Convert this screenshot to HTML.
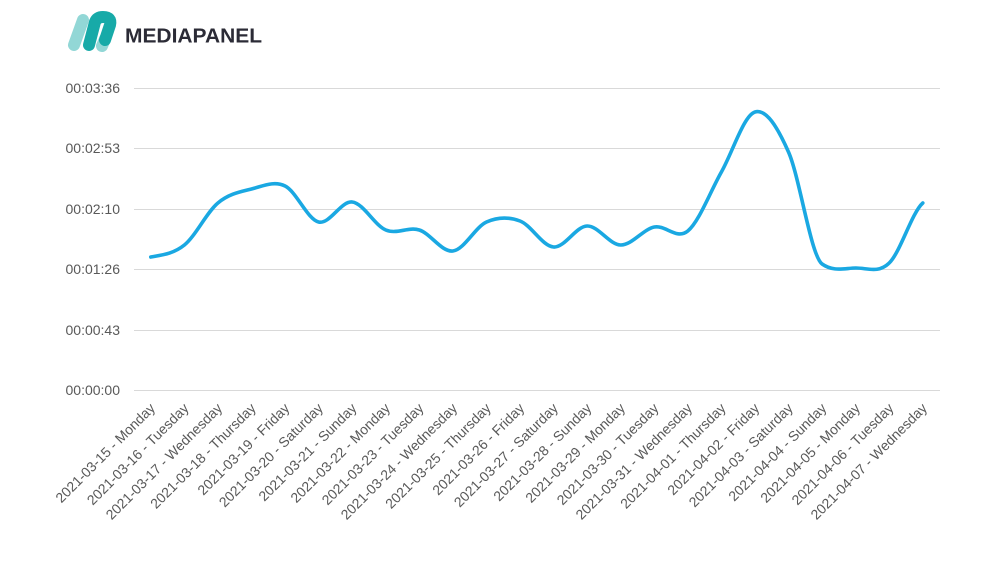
<!DOCTYPE html>
<html><head><meta charset="utf-8"><style>
html,body{margin:0;padding:0;background:#fff;}
svg{display:block;}
</style></head><body>
<svg width="1000" height="573" viewBox="0 0 1000 573" xmlns="http://www.w3.org/2000/svg">
<rect width="1000" height="573" fill="#fff"/>
<!-- logo -->
<g stroke-linecap="round" fill="none" stroke-width="12">
<line x1="74" y1="45" x2="83" y2="20" stroke="#92d7d6"/>
<line x1="105" y1="39" x2="102" y2="46" stroke="#92d7d6"/>
<path d="M89 45 L95 22 Q97 17 103 17 Q112 17 110 25 L105 40" stroke="#17aaa8"/>
</g>
<text x="125" y="42.5" font-family="Liberation Sans, sans-serif" font-weight="bold" font-size="20.5" fill="#2b2b36" textLength="137" lengthAdjust="spacingAndGlyphs">MEDIAPANEL</text>
<!-- grid -->
<g stroke="#d9d9d9" stroke-width="1">
<line x1="134" y1="88.5" x2="940" y2="88.5"/>
<line x1="134" y1="148.5" x2="940" y2="148.5"/>
<line x1="134" y1="209.5" x2="940" y2="209.5"/>
<line x1="134" y1="269.5" x2="940" y2="269.5"/>
<line x1="134" y1="330.5" x2="940" y2="330.5"/>
<line x1="134" y1="390.5" x2="940" y2="390.5"/>
</g>
<g font-family="Liberation Sans, sans-serif" font-size="14" fill="#595959" text-anchor="end">
<text x="120" y="93">00:03:36</text>
<text x="120" y="153">00:02:53</text>
<text x="120" y="214">00:02:10</text>
<text x="120" y="274">00:01:26</text>
<text x="120" y="335">00:00:43</text>
<text x="120" y="395">00:00:00</text>
</g>
<!-- series -->
<path fill="none" stroke="#1aa8e2" stroke-width="3.6" stroke-linecap="round" stroke-linejoin="round"
d="M150.8 257 C162.0 255,173.2 254,184.4 245 C195.6 236,206.7 212.3,217.9 203 C229.1 193.7,240.3 191.8,251.5 189 C262.7 186.2,273.9 180.5,285.1 186 C296.3 191.5,307.4 219.3,318.6 222 C329.8 224.7,341.0 200.7,352.2 202 C363.4 203.3,374.6 225.3,385.8 230 C397.0 234.7,408.1 226.5,419.3 230 C430.5 233.5,441.7 252.3,452.9 251 C464.1 249.7,475.3 227,486.5 222 C497.7 217,508.8 216.8,520.0 221 C531.2 225.2,542.4 246.2,553.6 247 C564.8 247.8,575.9 226.3,587.1 226 C598.3 225.7,609.5 244.8,620.7 245 C631.9 245.2,643.1 229.3,654.3 227 C665.5 224.7,676.6 240.2,687.8 231 C699.0 221.8,710.2 191.8,721.4 172 C732.6 152.2,743.8 115.3,755.0 112 C766.2 108.7,777.3 126.7,788.5 152 C799.7 177.3,810.9 256,822.1 264 C833.3 272,844.5 268.2,855.7 268 C866.9 267.8,878.0 273.8,889.2 263 C900.4 252.2,911.6 213,922.8 203"/>
<!-- x labels -->
<g font-family="Liberation Sans, sans-serif" font-size="14" fill="#595959" text-anchor="end">
<text transform="translate(156,409) rotate(-45)">2021-03-15 - Monday</text>
<text transform="translate(189.6,409) rotate(-45)">2021-03-16 - Tuesday</text>
<text transform="translate(223.1,409) rotate(-45)">2021-03-17 - Wednesday</text>
<text transform="translate(256.7,409) rotate(-45)">2021-03-18 - Thursday</text>
<text transform="translate(290.3,409) rotate(-45)">2021-03-19 - Friday</text>
<text transform="translate(323.8,409) rotate(-45)">2021-03-20 - Saturday</text>
<text transform="translate(357.4,409) rotate(-45)">2021-03-21 - Sunday</text>
<text transform="translate(391.0,409) rotate(-45)">2021-03-22 - Monday</text>
<text transform="translate(424.5,409) rotate(-45)">2021-03-23 - Tuesday</text>
<text transform="translate(458.1,409) rotate(-45)">2021-03-24 - Wednesday</text>
<text transform="translate(491.7,409) rotate(-45)">2021-03-25 - Thursday</text>
<text transform="translate(525.2,409) rotate(-45)">2021-03-26 - Friday</text>
<text transform="translate(558.8,409) rotate(-45)">2021-03-27 - Saturday</text>
<text transform="translate(592.3,409) rotate(-45)">2021-03-28 - Sunday</text>
<text transform="translate(625.9,409) rotate(-45)">2021-03-29 - Monday</text>
<text transform="translate(659.5,409) rotate(-45)">2021-03-30 - Tuesday</text>
<text transform="translate(693.0,409) rotate(-45)">2021-03-31 - Wednesday</text>
<text transform="translate(726.6,409) rotate(-45)">2021-04-01 - Thursday</text>
<text transform="translate(760.2,409) rotate(-45)">2021-04-02 - Friday</text>
<text transform="translate(793.7,409) rotate(-45)">2021-04-03 - Saturday</text>
<text transform="translate(827.3,409) rotate(-45)">2021-04-04 - Sunday</text>
<text transform="translate(860.9,409) rotate(-45)">2021-04-05 - Monday</text>
<text transform="translate(894.4,409) rotate(-45)">2021-04-06 - Tuesday</text>
<text transform="translate(928.0,409) rotate(-45)">2021-04-07 - Wednesday</text>
</g>
</svg>
</body></html>
